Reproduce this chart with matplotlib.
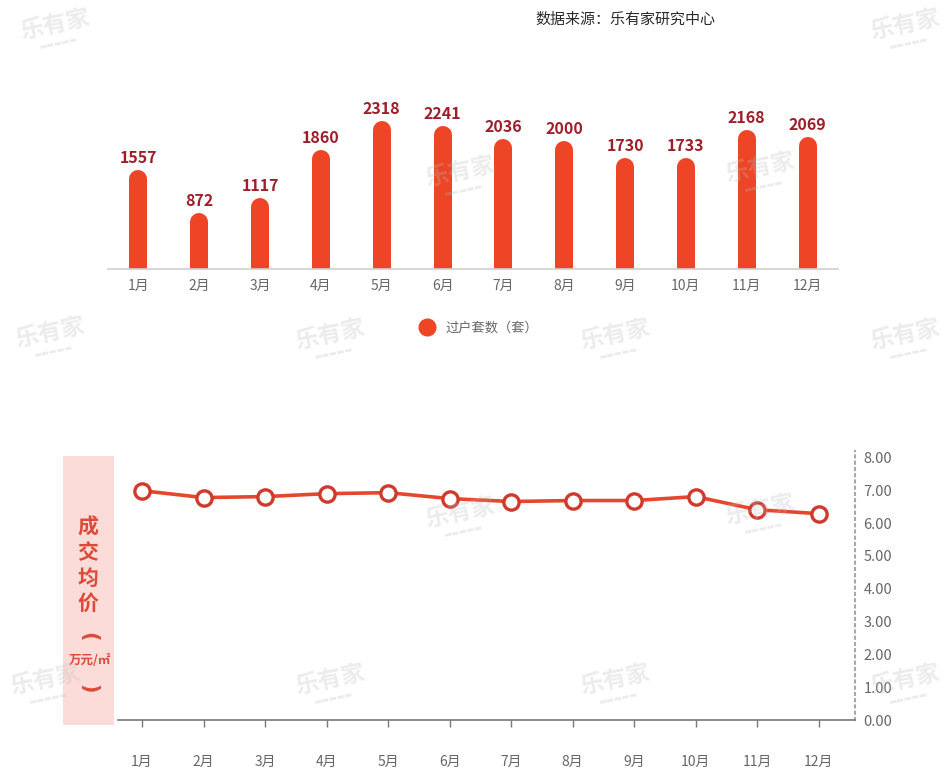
import matplotlib
matplotlib.use("Agg")
import matplotlib.pyplot as plt
from matplotlib.lines import Line2D
from matplotlib.patches import Rectangle
import numpy as np

plt.rcParams['font.family'] = ['Noto Sans CJK SC', 'DejaVu Sans']

months = ['1月', '2月', '3月', '4月', '5月', '6月', '7月', '8月', '9月', '10月', '11月', '12月']
deals = [1557, 872, 1117, 1860, 2318, 2241, 2036, 2000, 1730, 1733, 2168, 2069]
avg_price = [6.99, 6.78, 6.81, 6.90, 6.93, 6.75, 6.66, 6.69, 6.69, 6.81, 6.41, 6.29]
price_ticks = [0, 1, 2, 3, 4, 5, 6, 7, 8]
deals_label = '过户套数（套）'
price_title = '成交均价'
price_unit = '万元/㎡'
source = '数据来源：乐有家研究中心'

W, H = 953, 774
BAR_RED = '#ee4527'
LABEL_RED = '#9e1f2a'
LINE_RED = '#e4472e'
TITLE_RED = '#dd4a3a'
GRAY = '#666666'

fig = plt.figure(figsize=(W / 100, H / 100), dpi=100)


def fx(px):
    return px / W


def fy(py):
    return 1 - py / H


x = np.arange(len(months))

# ---- top: bar chart of transfers ----
ax1 = fig.add_axes([fx(108), fy(269), fx(838 - 108), (269 - 100) / H])
ax1.set_xlim(-0.5, len(months) - 0.5)
ax1.set_ylim(0, 2645)
bar_px = 18
px_per_unit = (269 - 100) / 2645
r = (bar_px / 2) / px_per_unit
for xi, v in zip(x, deals):
    # rounded-top column: a thick line with round cap, bottom cap clipped by the axes
    ax1.plot([xi, xi], [-r * 2, v - r], color=BAR_RED, lw=bar_px * 0.72,
             solid_capstyle='round', zorder=2)
    ax1.text(xi, v + 4 / px_per_unit, str(v), ha='center', va='bottom',
             fontsize=11.5, fontweight='bold', color=LABEL_RED)
for s in ['top', 'right', 'left']:
    ax1.spines[s].set_visible(False)
ax1.spines['bottom'].set_color('#d0d0d0')
ax1.spines['bottom'].set_linewidth(1.2)
ax1.spines['bottom'].set_zorder(3)
ax1.set_yticks([])
ax1.set_xticks(x)
ax1.set_xticklabels(months, fontsize=10, color=GRAY)
ax1.tick_params(axis='x', length=0, pad=7)

handle = Line2D([], [], marker='o', ls='', color=BAR_RED, markersize=12)
fig.legend(handles=[handle], labels=[deals_label], loc='center',
           bbox_to_anchor=(fx(479), fy(328)), frameon=False, fontsize=9.5,
           labelcolor=GRAY, handletextpad=0.8, handlelength=1.2)

fig.text(fx(535), fy(20), source, fontsize=10.8, color='#2a2a2a', va='center',
         ha='left', fontweight='medium')

# ---- bottom: average price line ----
ax2 = fig.add_axes([fx(118), fy(720), fx(855 - 118), (720 - 451) / H])
ax2.set_xlim(-0.39, 11.59)
ax2.set_ylim(0, 8.2)
ax2.plot(x, avg_price, color=LINE_RED, lw=2.6, marker='o', markersize=11,
         markerfacecolor='white', markeredgecolor='#cf3a2c', markeredgewidth=2.4,
         zorder=3, clip_on=False)
ax2.spines['top'].set_visible(False)
ax2.spines['left'].set_visible(False)
ax2.spines['right'].set_linestyle((0, (1, 2)))
ax2.spines['right'].set_color('#a8a8a8')
ax2.spines['right'].set_linewidth(1.5)
ax2.spines['bottom'].set_color('#777777')
ax2.spines['bottom'].set_linewidth(1.2)
ax2.yaxis.tick_right()
ax2.set_yticks(price_ticks)
ax2.set_yticklabels([f'{t:.2f}' for t in price_ticks], fontsize=10.5, color=GRAY)
ax2.tick_params(axis='y', length=0, pad=6)
ax2.set_xticks(x)
ax2.set_xticklabels(months, fontsize=10, color=GRAY)
ax2.tick_params(axis='x', length=5, width=1, color='#777777', pad=20)

# vertical title panel on the left
fig.patches.append(Rectangle((fx(63), fy(725)), fx(114 - 63), (725 - 456) / H,
                             transform=fig.transFigure, facecolor='#fcdcd8',
                             edgecolor='none', zorder=0))
for i, ch in enumerate(price_title):
    fig.text(fx(88), fy(527 + i * 25.5), ch, ha='center', va='center',
             fontsize=15, fontweight='bold', color=TITLE_RED)
fig.text(fx(88), fy(637), '(', ha='center', va='center', fontsize=15,
         fontweight='bold', color=TITLE_RED, rotation=-90, family='DejaVu Sans')
fig.text(fx(90), fy(660), price_unit, ha='center', va='center', fontsize=9,
         fontweight='bold', color=TITLE_RED)
fig.text(fx(88), fy(689), ')', ha='center', va='center', fontsize=15,
         fontweight='bold', color=TITLE_RED, rotation=-90, family='DejaVu Sans')

# faint brand watermarks
marks = [(55, 25), (905, 25), (460, 172), (760, 168), (50, 333), (330, 335),
         (615, 335), (905, 335), (460, 513), (760, 510), (45, 680), (330, 680),
         (615, 680), (905, 680)]
for mx, my in marks:
    fig.text(fx(mx), fy(my), '乐有家', ha='center', va='center', fontsize=17,
             fontweight='bold', color='#bdbdbd', alpha=0.28, rotation=12, zorder=5)
    fig.text(fx(mx + 3), fy(my + 18), '▬▬▬▬▬', ha='center', va='center',
             fontsize=6, color='#bdbdbd', alpha=0.28, rotation=12, zorder=5)

fig.savefig('out.png', dpi=100)
